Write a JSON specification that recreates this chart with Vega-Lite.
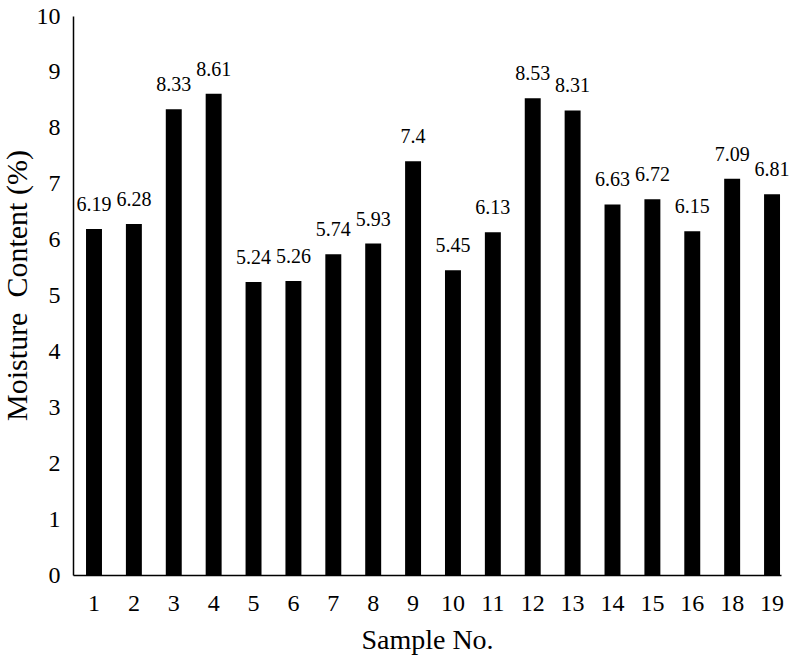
{
  "$schema": "https://vega.github.io/schema/vega-lite/v6.json",
  "width": 708,
  "height": 559,
  "autosize": {"type": "none"},
  "padding": {"left": 73, "top": 16, "right": 10, "bottom": 80},
  "background": "white",
  "config": {
    "view": {"stroke": null},
    "font": "Liberation Serif"
  },
  "data": {
    "values": [
      {"sample": "1", "moisture": 6.19},
      {"sample": "2", "moisture": 6.28},
      {"sample": "3", "moisture": 8.33},
      {"sample": "4", "moisture": 8.61},
      {"sample": "5", "moisture": 5.24},
      {"sample": "6", "moisture": 5.26},
      {"sample": "7", "moisture": 5.74},
      {"sample": "8", "moisture": 5.93},
      {"sample": "9", "moisture": 7.4},
      {"sample": "10", "moisture": 5.45},
      {"sample": "11", "moisture": 6.13},
      {"sample": "12", "moisture": 8.53},
      {"sample": "13", "moisture": 8.31},
      {"sample": "14", "moisture": 6.63},
      {"sample": "15", "moisture": 6.72},
      {"sample": "16", "moisture": 6.15},
      {"sample": "18", "moisture": 7.09},
      {"sample": "19", "moisture": 6.81}
    ]
  },
  "encoding": {
    "x": {
      "field": "sample",
      "type": "nominal",
      "sort": null,
      "scale": {"paddingInner": 0.6, "paddingOuter": 0.1755, "align": 0.93},
      "axis": {
        "title": "Sample No.",
        "titleFont": "Liberation Serif",
        "titleFontSize": 28,
        "titleFontWeight": "normal",
        "titleColor": "black",
        "titleBaseline": "middle",
        "titleY": 65,
        "labelAngle": 0,
        "labelFont": "Liberation Serif",
        "labelFontSize": 24,
        "labelColor": "black",
        "labelPadding": 16,
        "ticks": false,
        "domainColor": "black",
        "domainWidth": 1.5,
        "grid": false
      }
    },
    "y": {
      "field": "moisture",
      "type": "quantitative",
      "scale": {"domain": [0, 10], "nice": false},
      "axis": {
        "title": "Moisture\u00a0\u00a0Content (%)",
        "titleFont": "Liberation Serif",
        "titleFontSize": 30,
        "titleFontWeight": "normal",
        "titleColor": "black",
        "titleBaseline": "middle",
        "titleX": -56,
        "titleY": 269,
        "values": [0, 1, 2, 3, 4, 5, 6, 7, 8, 9, 10],
        "labelFont": "Liberation Serif",
        "labelFontSize": 24,
        "labelColor": "black",
        "labelPadding": 13,
        "ticks": false,
        "domainColor": "black",
        "domainWidth": 1.5,
        "grid": false
      }
    }
  },
  "layer": [
    {"mark": {"type": "bar", "color": "black"}},
    {
      "mark": {"type": "text", "dy": -18, "baseline": "alphabetic", "font": "Liberation Serif", "fontSize": 20, "color": "black"},
      "encoding": {"text": {"field": "moisture", "type": "quantitative"}}
    }
  ]
}
